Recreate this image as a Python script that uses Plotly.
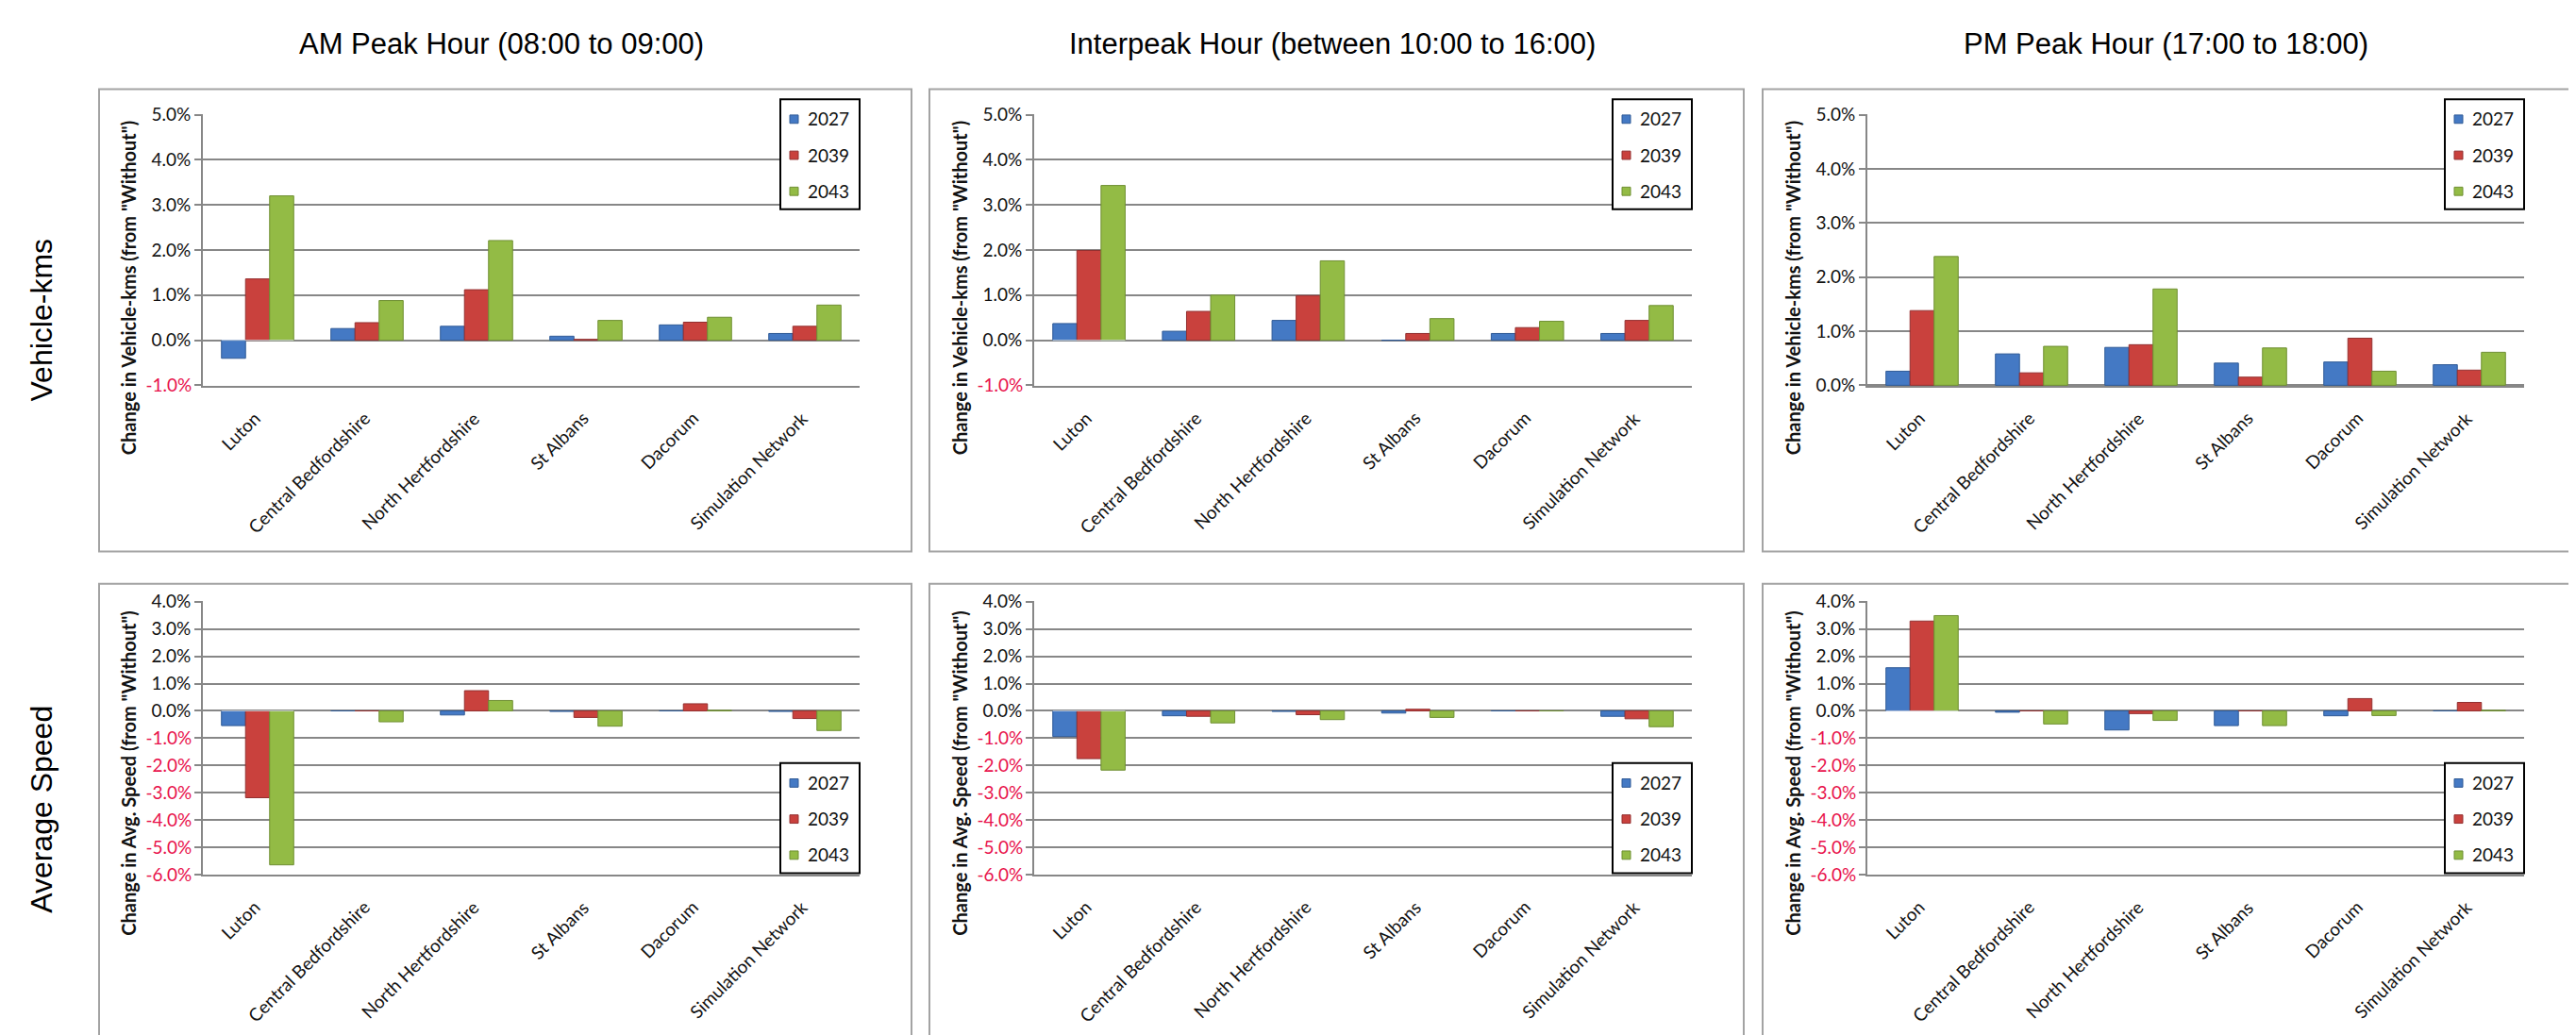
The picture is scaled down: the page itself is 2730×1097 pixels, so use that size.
import plotly.graph_objects as go

# ---------------- data ----------------
categories = ["Luton", "Central Bedfordshire", "North Hertfordshire",
              "St Albans", "Dacorum", "Simulation Network"]
years = ["2027", "2039", "2043"]
period_titles = ["AM Peak Hour (08:00 to 09:00)",
                 "Interpeak Hour (between 10:00 to 16:00)",
                 "PM Peak Hour (17:00 to 18:00)"]
row_labels = ["Vehicle-kms", "Average Speed"]
vkm_axis_title = 'Change in Vehicle-kms (from "Without")'
spd_axis_title = 'Change in Avg. Speed (from "Without")'

# Change in vehicle-kms (%)
vkm_am_2027 = [-0.40, 0.26, 0.31, 0.09, 0.34, 0.15]
vkm_am_2039 = [1.36, 0.39, 1.12, 0.02, 0.40, 0.31]
vkm_am_2043 = [3.20, 0.88, 2.21, 0.44, 0.51, 0.78]
vkm_ip_2027 = [0.37, 0.20, 0.44, 0.00, 0.15, 0.15]
vkm_ip_2039 = [1.99, 0.64, 0.99, 0.15, 0.28, 0.44]
vkm_ip_2043 = [3.43, 1.00, 1.76, 0.48, 0.42, 0.77]
vkm_pm_2027 = [0.26, 0.58, 0.70, 0.41, 0.43, 0.38]
vkm_pm_2039 = [1.38, 0.23, 0.75, 0.15, 0.87, 0.28]
vkm_pm_2043 = [2.38, 0.72, 1.78, 0.69, 0.26, 0.61]

# Change in average speed (%)
spd_am_2027 = [-0.54, 0.00, -0.15, -0.02, 0.00, -0.02]
spd_am_2039 = [-3.18, 0.00, 0.74, -0.24, 0.26, -0.28]
spd_am_2043 = [-5.64, -0.40, 0.38, -0.56, 0.02, -0.72]
spd_ip_2027 = [-0.94, -0.18, -0.02, -0.08, 0.00, -0.20]
spd_ip_2039 = [-1.75, -0.20, -0.14, 0.06, 0.00, -0.29]
spd_ip_2043 = [-2.17, -0.44, -0.32, -0.24, 0.00, -0.58]
spd_pm_2027 = [1.58, -0.05, -0.70, -0.54, -0.18, 0.00]
spd_pm_2039 = [3.29, 0.00, -0.10, 0.00, 0.45, 0.31]
spd_pm_2043 = [3.49, -0.48, -0.35, -0.54, -0.17, 0.02]

vkm_tickvals = [-1, 0, 1, 2, 3, 4, 5]
vkm_ticktext = ["-1.0%", "0.0%", "1.0%", "2.0%", "3.0%", "4.0%", "5.0%"]
vkm_pm_tickvals = [0, 1, 2, 3, 4, 5]
vkm_pm_ticktext = ["0.0%", "1.0%", "2.0%", "3.0%", "4.0%", "5.0%"]
spd_tickvals = [-6, -5, -4, -3, -2, -1, 0, 1, 2, 3, 4]
spd_ticktext = ["-6.0%", "-5.0%", "-4.0%", "-3.0%", "-2.0%", "-1.0%",
                "0.0%", "1.0%", "2.0%", "3.0%", "4.0%"]

panels = [
    (0, 0, [vkm_am_2027, vkm_am_2039, vkm_am_2043], vkm_tickvals, vkm_ticktext, [-1, 5]),
    (0, 1, [vkm_ip_2027, vkm_ip_2039, vkm_ip_2043], vkm_tickvals, vkm_ticktext, [-1, 5]),
    (0, 2, [vkm_pm_2027, vkm_pm_2039, vkm_pm_2043], vkm_pm_tickvals, vkm_pm_ticktext, [0, 5]),
    (1, 0, [spd_am_2027, spd_am_2039, spd_am_2043], spd_tickvals, spd_ticktext, [-6, 4]),
    (1, 1, [spd_ip_2027, spd_ip_2039, spd_ip_2043], spd_tickvals, spd_ticktext, [-6, 4]),
    (1, 2, [spd_pm_2027, spd_pm_2039, spd_pm_2043], spd_tickvals, spd_ticktext, [-6, 4]),
]

# ---------------- style / layout ----------------
W, H = 2730, 1097
colors = ["#4479c4", "#c9413d", "#93bb45"]
outlines = ["#2f5a96", "#933030", "#6f8f33"]
grid = "#878787"
neg_red = "#e8114b"
tick_font = dict(family="Lato", size=19, color="#111111")
neg_font = dict(family="Lato", size=19, color=neg_red)

col_plot = [(207, 903), (1088, 1785), (1971, 2667)]
row_plot = [(103, 397), (630, 926)]
col_box = [(97, 958), (977, 1840), (1860, 2722)]
row_box = [(76, 576), (611, 1130)]
legend_top = [87, 805]
legend_w, legend_h = 84, 119
legend_item_dy = [21, 60, 99]
axis_title_y = [291, 816]
row_label_y = [326, 855]


def px(x):
    return x / W


def py(y):
    return 1 - y / H


fig = go.Figure()
layout = dict(
    width=W, height=H, margin=dict(l=0, r=0, t=0, b=0),
    paper_bgcolor="white", plot_bgcolor="white",
    barmode="group", bargap=0.34, bargroupgap=0.0,
    showlegend=False, shapes=[], annotations=[],
)

for idx, (r, c, series, tv, tt, rng) in enumerate(panels):
    n = idx + 1
    xa = "xaxis" if n == 1 else f"xaxis{n}"
    ya = "yaxis" if n == 1 else f"yaxis{n}"
    xr = "x" if n == 1 else f"x{n}"
    yr = "y" if n == 1 else f"y{n}"
    ya_neg = f"yaxis{n + 6}"

    for k, (yr_name, vals) in enumerate(zip(years, series)):
        fig.add_trace(go.Bar(
            x=categories, y=vals, name=yr_name,
            marker=dict(color=colors[k], line=dict(color=outlines[k], width=1)),
            xaxis=xr, yaxis=yr, showlegend=False,
        ))

    pos_v = [v for v in tv if v >= 0]
    pos_t = [t for v, t in zip(tv, tt) if v >= 0]
    neg_v = [v for v in tv if v < 0]
    neg_t = [t for v, t in zip(tv, tt) if v < 0]

    x0, x1 = col_plot[c]
    y0, y1 = row_plot[r]
    eps = 0.012
    yrange = [rng[0] - eps, rng[1] + eps]
    layout[xa] = dict(
        domain=[px(x0), px(x1)], anchor=yr, type="category",
        showticklabels=False, showgrid=False,
        showline=True, linecolor=grid, linewidth=2, ticks="",
        zeroline=False, fixedrange=True,
    )
    layout[ya] = dict(
        domain=[py(y1), py(y0)], anchor=xr, range=yrange,
        tickmode="array", tickvals=pos_v + neg_v,
        ticktext=pos_t + [" " * 0 for _ in neg_t],
        tickfont=tick_font,
        showgrid=True, gridcolor=grid, gridwidth=2,
        zeroline=True, zerolinecolor=grid, zerolinewidth=2,
        showline=True, linecolor=grid, linewidth=2,
        ticks="outside", ticklen=7, tickcolor=grid, tickwidth=2,
        fixedrange=True,
    )
    if neg_v:
        layout[ya_neg] = dict(
            overlaying=yr, anchor=xr, side="left", range=yrange,
            tickmode="array", tickvals=neg_v, ticktext=neg_t, tickfont=neg_font,
            showgrid=False, zeroline=False, showline=False,
            ticks="outside", ticklen=7, tickcolor=grid, tickwidth=2,
            fixedrange=True,
        )
        # an invisible carrier trace so the overlay axis is drawn
        fig.add_trace(go.Bar(x=categories[:1], y=[0], xaxis=xr, yaxis=f"y{n + 6}",
                             showlegend=False, hoverinfo="skip",
                             marker=dict(color="rgba(0,0,0,0)")))

    # rotated category labels, placed on the category axis
    for cat in categories:
        layout["annotations"].append(dict(
            text=cat, xref=xr, yref="paper", x=cat, y=py(y1 + 20),
            xanchor="right", yanchor="top", xshift=10, textangle=-45,
            showarrow=False, font=tick_font,
        ))

    # legend drawn as a framed key
    lx1 = x1
    lx0 = x1 - legend_w
    ly0 = legend_top[r]
    layout["shapes"].append(dict(
        type="rect", xref="paper", yref="paper",
        x0=px(lx0), x1=px(lx1), y0=py(ly0 + legend_h), y1=py(ly0),
        line=dict(color="black", width=2), fillcolor="white", layer="above",
    ))
    for k, yr_name in enumerate(years):
        cy = ly0 + legend_item_dy[k]
        layout["shapes"].append(dict(
            type="rect", xref="paper", yref="paper",
            x0=px(lx0 + 10), x1=px(lx0 + 19), y0=py(cy + 5), y1=py(cy - 4),
            line=dict(color=outlines[k], width=1), fillcolor=colors[k], layer="above",
        ))
        layout["annotations"].append(dict(
            text=yr_name, xref="paper", yref="paper", x=px(lx0 + 27), y=py(cy),
            xanchor="left", yanchor="middle", showarrow=False, font=tick_font,
        ))

    # panel frame
    bx0, bx1 = col_box[c]
    by0, by1 = row_box[r]
    layout["shapes"].append(dict(
        type="rect", xref="paper", yref="paper",
        x0=px(bx0), x1=px(bx1), y0=py(by1), y1=py(by0),
        line=dict(color="#a3a3a3", width=2), layer="below",
    ))

    # y axis title
    layout["annotations"].append(dict(
        text=f"<b>{vkm_axis_title if r == 0 else spd_axis_title}</b>",
        xref="paper", yref="paper", x=px(x0 - 79), y=py(axis_title_y[r]),
        xanchor="center", yanchor="middle", textangle=-90, showarrow=False,
        font=dict(family="Lato", size=20, color="#111111"),
    ))

# column titles
for c, t in enumerate(period_titles):
    bx0, bx1 = col_box[c]
    layout["annotations"].append(dict(
        text=t, xref="paper", yref="paper", x=px((bx0 + bx1) / 2 - 4), y=py(27),
        xanchor="center", yanchor="middle", showarrow=False,
        font=dict(family="Arial, Liberation Sans, sans-serif", size=31, color="black"),
    ))

# row labels
for r, t in enumerate(row_labels):
    layout["annotations"].append(dict(
        text=t, xref="paper", yref="paper", x=px(36), y=py(row_label_y[r]),
        xanchor="center", yanchor="middle", textangle=-90, showarrow=False,
        font=dict(family="Arial, Liberation Sans, sans-serif", size=32, color="black"),
    ))

fig.update_layout(**layout)
fig.write_html("out.html")
